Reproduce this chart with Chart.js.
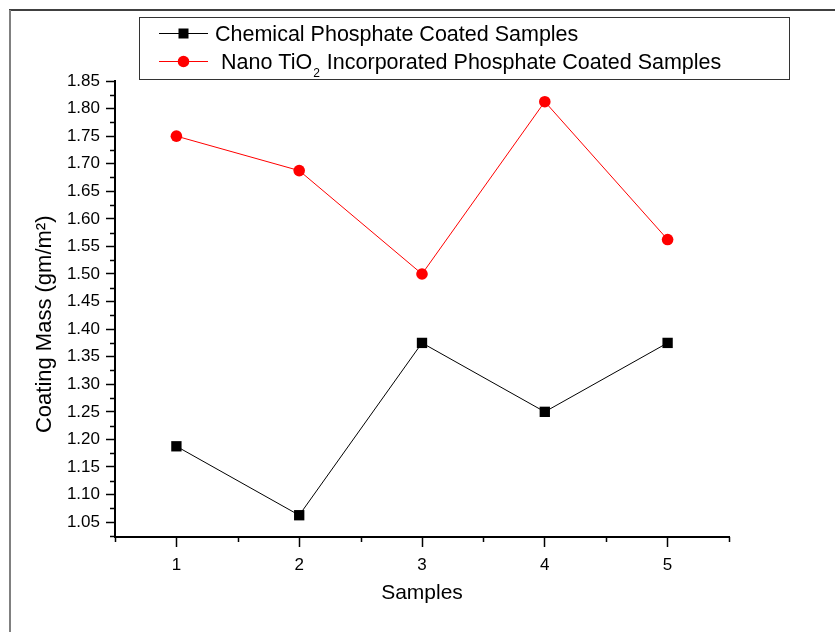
<!DOCTYPE html>
<html>
<head>
<meta charset="utf-8">
<title>Coating Mass</title>
<script src="https://cdn.jsdelivr.net/npm/chart.js@4.4.1/dist/chart.umd.min.js"></script>
<style>
    html, body { margin: 0; padding: 0; background: #fff; }
    #wrap { width: 835px; height: 632px; position: relative; }
</style>
</head>
<body>
<div id="wrap"><canvas id="coating-chart"></canvas></div>
<script>
// Sample numbers along the x axis
const samples = [1, 2, 3, 4, 5];

// Coating mass (gm/m2)
const chemicalMass = [1.1875, 1.0625, 1.375, 1.25, 1.375];
const nanoTiO2Mass = [1.75, 1.6875, 1.5, 1.8125, 1.5625];

const seriesNames = [
    'Chemical Phosphate Coated Samples',
    'Nano TiO₂ Incorporated Phosphate Coated Samples'
];

// Major tick labels
const xTicks = [1, 2, 3, 4, 5];
const yTicks = [1.05, 1.10, 1.15, 1.20, 1.25, 1.30, 1.35, 1.40, 1.45,
                1.50, 1.55, 1.60, 1.65, 1.70, 1.75, 1.80, 1.85];

const FONT = "'Liberation Sans', Arial, sans-serif";

// page frame (top and left rules only, like the original figure)
const framePlugin = {
    id: 'frame',
    beforeDraw(chart) {
        const ctx = chart.ctx;
        ctx.save();
        ctx.fillStyle = '#fff';
        ctx.fillRect(0, 0, chart.width, chart.height);
        ctx.strokeStyle = '#000';
        ctx.lineWidth = 1.5;
        ctx.beginPath();
        ctx.moveTo(9, 10);
        ctx.lineTo(chart.width, 10);
        ctx.stroke();
        ctx.strokeStyle = '#808080';
        ctx.lineWidth = 2;
        ctx.beginPath();
        ctx.moveTo(10, 10);
        ctx.lineTo(10, chart.height);
        ctx.stroke();
        ctx.restore();
    }
};

// short ticks between the labelled ones
const minorTickPlugin = {
    id: 'minorTicks',
    afterDraw(chart) {
        const ctx = chart.ctx;
        const xs = chart.scales.x;
        const ys = chart.scales.y;
        const area = chart.chartArea;
        ctx.save();
        ctx.strokeStyle = '#000';
        ctx.lineWidth = 1.5;
        ctx.beginPath();
        const yMinor = [yTicks[0] - 0.025];
        for (let i = 0; i < yTicks.length - 1; i++) {
            yMinor.push((yTicks[i] + yTicks[i + 1]) / 2);
        }
        yMinor.forEach(v => {
            if (v < ys.min) return;
            const py = Math.round(ys.getPixelForValue(v)) + 0.5;
            ctx.moveTo(area.left - 5, py);
            ctx.lineTo(area.left, py);
        });
        const xMinor = [xTicks[0] - 0.5];
        xTicks.forEach(v => xMinor.push(v + 0.5));
        xMinor.forEach(v => {
            const px = Math.round(xs.getPixelForValue(v)) + 0.5;
            ctx.moveTo(px, area.bottom);
            ctx.lineTo(px, area.bottom + 5);
        });
        ctx.stroke();
        ctx.restore();
    }
};

// boxed legend at the top, with a subscript 2 in TiO2
const boxLegendPlugin = {
    id: 'boxLegend',
    afterDraw(chart) {
        const ctx = chart.ctx;
        ctx.save();
        ctx.strokeStyle = '#333';
        ctx.lineWidth = 1;
        ctx.strokeRect(139.5, 17.5, 650, 62);

        chart.data.datasets.forEach((ds, i) => {
            const cy = 33 + i * 28;
            ctx.strokeStyle = ds.borderColor;
            ctx.lineWidth = 1;
            ctx.beginPath();
            ctx.moveTo(159, cy + 0.5);
            ctx.lineTo(208, cy + 0.5);
            ctx.stroke();
            ctx.fillStyle = ds.backgroundColor;
            if (ds.pointStyle === 'rect') {
                ctx.fillRect(178.5, cy - 4.5, 10, 10);
            } else {
                ctx.beginPath();
                ctx.arc(183.5, cy + 0.5, 5.8, 0, Math.PI * 2);
                ctx.fill();
            }

            ctx.fillStyle = '#000';
            ctx.textBaseline = 'alphabetic';
            ctx.textAlign = 'left';
            let tx = i === 0 ? 215 : 221;
            const base = cy + 8;
            ds.label.split(/(₂)/).forEach(part => {
                if (part === '₂') {
                    ctx.font = '12px ' + FONT;
                    ctx.fillText('2', tx + 1, base + 8);
                    tx += ctx.measureText('2').width + 2;
                } else if (part) {
                    ctx.font = '21.5px ' + FONT;
                    ctx.fillText(part, tx, base);
                    tx += ctx.measureText(part).width;
                }
            });
        });
        ctx.restore();
    }
};

const ctx = document.getElementById('coating-chart').getContext('2d');

window.coatingChart = new Chart(ctx, {
    type: 'line',
    data: {
        datasets: [{
            label: seriesNames[0],
            data: samples.map((s, i) => ({ x: s, y: chemicalMass[i] })),
            borderColor: '#000000',
            backgroundColor: '#000000',
            borderWidth: 1,
            pointStyle: 'rect',
            pointRadius: 7.3,
            pointBorderWidth: 0,
            tension: 0
        }, {
            label: seriesNames[1],
            data: samples.map((s, i) => ({ x: s, y: nanoTiO2Mass[i] })),
            borderColor: '#ff0000',
            backgroundColor: '#ff0000',
            borderWidth: 1,
            pointStyle: 'circle',
            pointRadius: 5.8,
            pointBorderWidth: 0,
            tension: 0
        }]
    },
    options: {
        responsive: true,
        maintainAspectRatio: false,
        animation: false,
        layout: {
            padding: { top: 81, right: 106, left: 0, bottom: 0 }
        },
        plugins: {
            legend: { display: false },
            tooltip: { enabled: false }
        },
        scales: {
            x: {
                type: 'linear',
                min: 0.5,
                max: 5.5,
                afterBuildTicks: scale => {
                    scale.ticks = xTicks.map(v => ({ value: v }));
                },
                afterFit: scale => { scale.height = 95; },
                grid: {
                    drawOnChartArea: false,
                    drawTicks: true,
                    tickLength: 10,
                    tickColor: '#000',
                    tickWidth: 1.5
                },
                border: { display: true, color: '#000', width: 2 },
                ticks: {
                    color: '#000',
                    font: { family: FONT, size: 17 },
                    padding: 8,
                    maxRotation: 0,
                    callback: v => String(v)
                },
                title: {
                    display: true,
                    text: 'Samples',
                    color: '#000',
                    font: { family: FONT, size: 21 },
                    padding: { top: 0, bottom: 26 }
                }
            },
            y: {
                type: 'linear',
                min: 1.023,
                max: 1.85,
                afterBuildTicks: scale => {
                    scale.ticks = yTicks.map(v => ({ value: v }));
                },
                afterFit: scale => { scale.width = 115; },
                grid: {
                    drawOnChartArea: false,
                    drawTicks: true,
                    tickLength: 9,
                    tickColor: '#000',
                    tickWidth: 1.5
                },
                border: { display: true, color: '#000', width: 2 },
                ticks: {
                    color: '#000',
                    font: { family: FONT, size: 17 },
                    padding: 6,
                    callback: v => v.toFixed(2)
                },
                title: {
                    display: true,
                    // trailing spaces push the rotated label a little below the axis centre, as in the original
                    text: 'Coating Mass (gm/m²)\u00a0\u00a0\u00a0\u00a0\u00a0',
                    color: '#000',
                    font: { family: FONT, size: 22 },
                    padding: { top: 32, bottom: 0 }
                }
            }
        }
    },
    plugins: [framePlugin, minorTickPlugin, boxLegendPlugin]
});
</script>
</body>
</html>
